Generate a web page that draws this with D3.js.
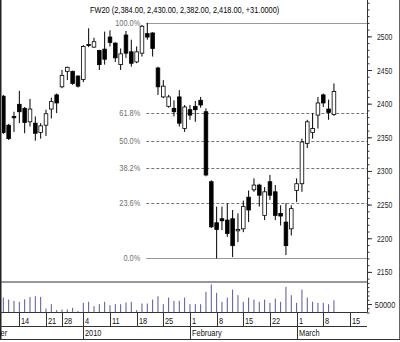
<!DOCTYPE html>
<meta charset="utf-8">
<script src="https://cdn.jsdelivr.net/npm/d3@7"></script>
<style>
body { margin: 0; background: #fff; }
text { font-family: "Liberation Sans", Arial, sans-serif; font-size: 9.5px; }
</style>
<body>
<script>

// trading days on the x axis (first ones are off the left edge)
var days = ["2009-12-01","2009-12-02","2009-12-03","2009-12-04","2009-12-07","2009-12-08","2009-12-09","2009-12-10","2009-12-11",
    "2009-12-14","2009-12-15","2009-12-16","2009-12-17","2009-12-18","2009-12-21","2009-12-22","2009-12-23","2009-12-28","2009-12-29","2009-12-30","2009-12-31",
    "2010-01-04","2010-01-05","2010-01-06","2010-01-07","2010-01-08","2010-01-11","2010-01-12","2010-01-13","2010-01-14","2010-01-15",
    "2010-01-18","2010-01-19","2010-01-20","2010-01-21","2010-01-22","2010-01-25","2010-01-26","2010-01-27","2010-01-28","2010-01-29",
    "2010-02-01","2010-02-02","2010-02-03","2010-02-04","2010-02-05","2010-02-08","2010-02-09","2010-02-10","2010-02-11","2010-02-12",
    "2010-02-15","2010-02-16","2010-02-17","2010-02-18","2010-02-19","2010-02-22","2010-02-23","2010-02-24","2010-02-25","2010-02-26",
    "2010-03-01","2010-03-02","2010-03-03","2010-03-04","2010-03-05","2010-03-08","2010-03-09","2010-03-10","2010-03-11","2010-03-12","2010-03-15"]
var firstCandle = "2009-12-09"

var open = [2411,2368,2381,2399,2393,2373,2371,2357,2368,2392,2413,2425,2448,2448,2441,
    2436,2488,2484,2479,2481,2499,2490,2458,2502,2477,2462,2475,2504,2505,2453,2410,2396,2393,2410,2363,
    2391,2396,2405,2388,2284,2223,2229,2227,2229,2211,2214,2261,2272,2279,2234,2284,2269,2237,2224,2214,
    2271,2281,2341,2357,2383,2413,2392,2384]
var high = [2413,2370,2388,2419,2395,2407,2381,2371,2391,2409,2415,2450,2455,2449,2442,
    2487,2512,2498,2480,2507,2509,2491,2482,2508,2495,2485,2517,2520,2506,2455,2435,2413,2405,2420,2398,
    2398,2404,2410,2393,2286,2247,2247,2252,2242,2237,2256,2271,2289,2281,2276,2294,2279,2249,2252,2249,
    2289,2348,2376,2386,2410,2415,2406,2430]
var low = [2355,2346,2358,2371,2356,2366,2345,2348,2352,2378,2386,2423,2435,2428,2424,
    2432,2484,2483,2450,2458,2485,2462,2450,2468,2455,2460,2470,2495,2470,2413,2408,2394,2381,2366,2358,
    2376,2373,2394,2292,2215,2170,2212,2202,2172,2194,2209,2224,2269,2247,2227,2257,2227,2219,2175,2204,
    2254,2269,2334,2348,2363,2395,2376,2382]
var close = [2357,2348,2379,2388,2372,2392,2356,2367,2385,2403,2401,2442,2454,2430,2426,
    2485,2487,2492,2458,2466,2491,2468,2474,2475,2460,2477,2515,2499,2482,2425,2426,2410,2388,2371,2395,
    2383,2391,2398,2294,2217,2213,2226,2207,2189,2213,2247,2242,2279,2264,2269,2264,2234,2233,2189,2244,
    2281,2343,2373,2363,2401,2401,2387,2418]
var volume = [88000,76000,69000,63000,78000,92000,96000,92000,24000,49000,14000,18000,18000,28000,9000,
    57000,63000,37000,49000,63000,43000,49000,49000,59000,63000,14000,53000,53000,76000,96000,49000,88000,69000,69000,88000,
    49000,49000,49000,122000,166000,116000,63000,88000,135000,102000,63000,88000,76000,63000,76000,57000,82000,63000,151000,102000,
    57000,135000,88000,63000,57000,57000,49000,72000]

var fibLevels = [0, 0.236, 0.382, 0.5, 0.618, 1]
var fibLabels = ["0.0%", "23.6%", "38.2%", "50.0%", "61.8%", "100.0%"]
var priceTicks = [2150, 2200, 2250, 2300, 2350, 2400, 2450, 2500]
var volumeTicks = [50000]
var title = "FW20 (2,384.00, 2,430.00, 2,382.00, 2,418.00, +31.0000)"

var W = 400, H = 342
var left = 2, right = 367
var priceBottom = 282, volBottom = 312.5, dateBottom = 326.5, monthBottom = 339.5
var sx = 0.78   // source font is narrow, squeeze text a bit

var svg = d3.select("body").append("svg").attr("width", W).attr("height", H)

function label(g, px, py, s, anchor, k) {
    return g.append("text")
        .attr("transform", "translate(" + px + "," + py + ") scale(" + (k || sx) + ",1)")
        .attr("text-anchor", anchor || "start")
        .text(s)
}

var start = days.indexOf(firstCandle)
var candles = open.map(function(o, i) {
    return {i: start + i, o: o, h: high[i], l: low[i], c: close[i], v: volume[i]}
})

var x = d3.scaleLinear().domain([start - 0.25, days.length + 2.2]).range([left, right])
var y = d3.scaleLinear().domain([2135, 2554]).range([priceBottom, 0])
var yv = d3.scaleLinear().domain([0, 180000]).range([volBottom, priceBottom])

svg.append("clipPath").attr("id", "clip").append("rect")
    .attr("x", left).attr("y", 0).attr("width", right - left).attr("height", volBottom)

// frame + panel separators
svg.append("line").attr("x1", 0.75).attr("x2", 0.75).attr("y1", 0).attr("y2", monthBottom).attr("stroke", "#222").attr("stroke-width", 1.5)
svg.append("line").attr("x1", W - 0.5).attr("x2", W - 0.5).attr("y1", 0).attr("y2", monthBottom).attr("stroke", "#666")
;[priceBottom, volBottom, dateBottom].forEach(function(v) {
    svg.append("line").attr("x1", 0).attr("x2", right).attr("y1", v).attr("y2", v).attr("stroke", "#333")
})
svg.append("line").attr("x1", 0).attr("x2", W).attr("y1", monthBottom).attr("y2", monthBottom).attr("stroke", "#333")

// fibonacci retracement from the high to the low
var hi = d3.max(high), lo = d3.min(low)
var hiIdx = start + high.indexOf(hi)
fibLevels.forEach(function(f, k) {
    var p = lo + f * (hi - lo)
    var solid = (f == 0 || f == 1)
    svg.append("line").attr("x1", x(hiIdx) - 1).attr("x2", right)
        .attr("y1", Math.round(y(p)) + 0.5).attr("y2", Math.round(y(p)) + 0.5)
        .attr("stroke", solid ? "#999" : "#777")
        .attr("stroke-dasharray", solid ? null : "3,2")
    label(svg, x(hiIdx) - 7, y(p) + 3, fibLabels[k], "end").attr("fill", "#6f6f6f")
})

label(svg, 90, 13, title).attr("fill", "#000")

// candles
var plot = svg.append("g").attr("clip-path", "url(#clip)")
var bw = (x(1) - x(0)) * 0.68
var cg = plot.selectAll(".candle").data(candles).enter().append("g").attr("class", "candle")
cg.append("line")
    .attr("x1", function(d) { return x(d.i) }).attr("x2", function(d) { return x(d.i) })
    .attr("y1", function(d) { return y(d.h) }).attr("y2", function(d) { return y(d.l) })
    .attr("stroke", "#000")
cg.append("rect")
    .attr("x", function(d) { return x(d.i) - bw / 2 }).attr("width", bw)
    .attr("y", function(d) { return y(Math.max(d.o, d.c)) })
    .attr("height", function(d) { return Math.max(1, Math.abs(y(d.o) - y(d.c))) })
    .attr("fill", function(d) { return d.c >= d.o ? "#fff" : "#000" })
    .attr("stroke", "#000").attr("stroke-width", 0.8)

// volume
plot.selectAll(".vol").data(candles).enter().append("line").attr("class", "vol")
    .attr("x1", function(d) { return x(d.i) }).attr("x2", function(d) { return x(d.i) })
    .attr("y1", volBottom).attr("y2", function(d) { return yv(d.v) })
    .attr("stroke", "#5656a6").attr("stroke-width", 1)

// right axes
function axisG(ax, k) {
    var g = svg.append("g").attr("transform", "translate(" + right + ",0)").call(ax)
    g.select(".domain").remove()
    g.selectAll("line").attr("stroke", "#333")
    g.selectAll("text").attr("fill", "#222").attr("font-family", null).attr("font-size", null)
        .attr("transform", "scale(" + k + ",1)")
    return g
}
axisG(d3.axisRight(y).tickValues(d3.range(2140, 2551, 10)).tickSize(2.5).tickFormat(""), 1)
axisG(d3.axisRight(y).tickValues(priceTicks).tickSize(5).tickPadding(9).tickFormat(d3.format("d")), 0.72)
axisG(d3.axisRight(yv).tickValues(d3.range(0, 180000, 25000)).tickSize(2.5).tickFormat(""), 1)
axisG(d3.axisRight(yv).tickValues(volumeTicks).tickSize(5).tickPadding(5).tickFormat(d3.format("d")), 0.78)
svg.append("line").attr("x1", right + 0.5).attr("x2", right + 0.5).attr("y1", 0).attr("y2", volBottom).attr("stroke", "#333")

// date axis: week starts and month starts
var dates = days.map(function(s) { return new Date(s) })
var monthName = d3.utcFormat("%B")
dates.forEach(function(d, i) {
    var newMonth = i == 0 || d.getUTCMonth() != dates[i - 1].getUTCMonth()
    var newWeek = i > 0 && d.getUTCDay() < dates[i - 1].getUTCDay()
    if (!newMonth && !newWeek) return
    var px = Math.round(x(i)) + 0.5
    svg.append("line").attr("x1", px).attr("x2", px).attr("y1", volBottom)
        .attr("y2", newMonth ? monthBottom : dateBottom).attr("stroke", "#333")
    if (i > 0 && px > left) label(svg, px + 1.5, dateBottom - 3, d.getUTCDate()).attr("fill", "#111")
    if (newMonth) {
        // December starts off-screen, only its tail shows at the left edge
        var t = d.getUTCMonth() == 0 ? d.getUTCFullYear() : monthName(d)
        label(svg, px + 1.5, monthBottom - 3.5, t).attr("fill", "#111")
    }
})

</script>
</body>
</html>
